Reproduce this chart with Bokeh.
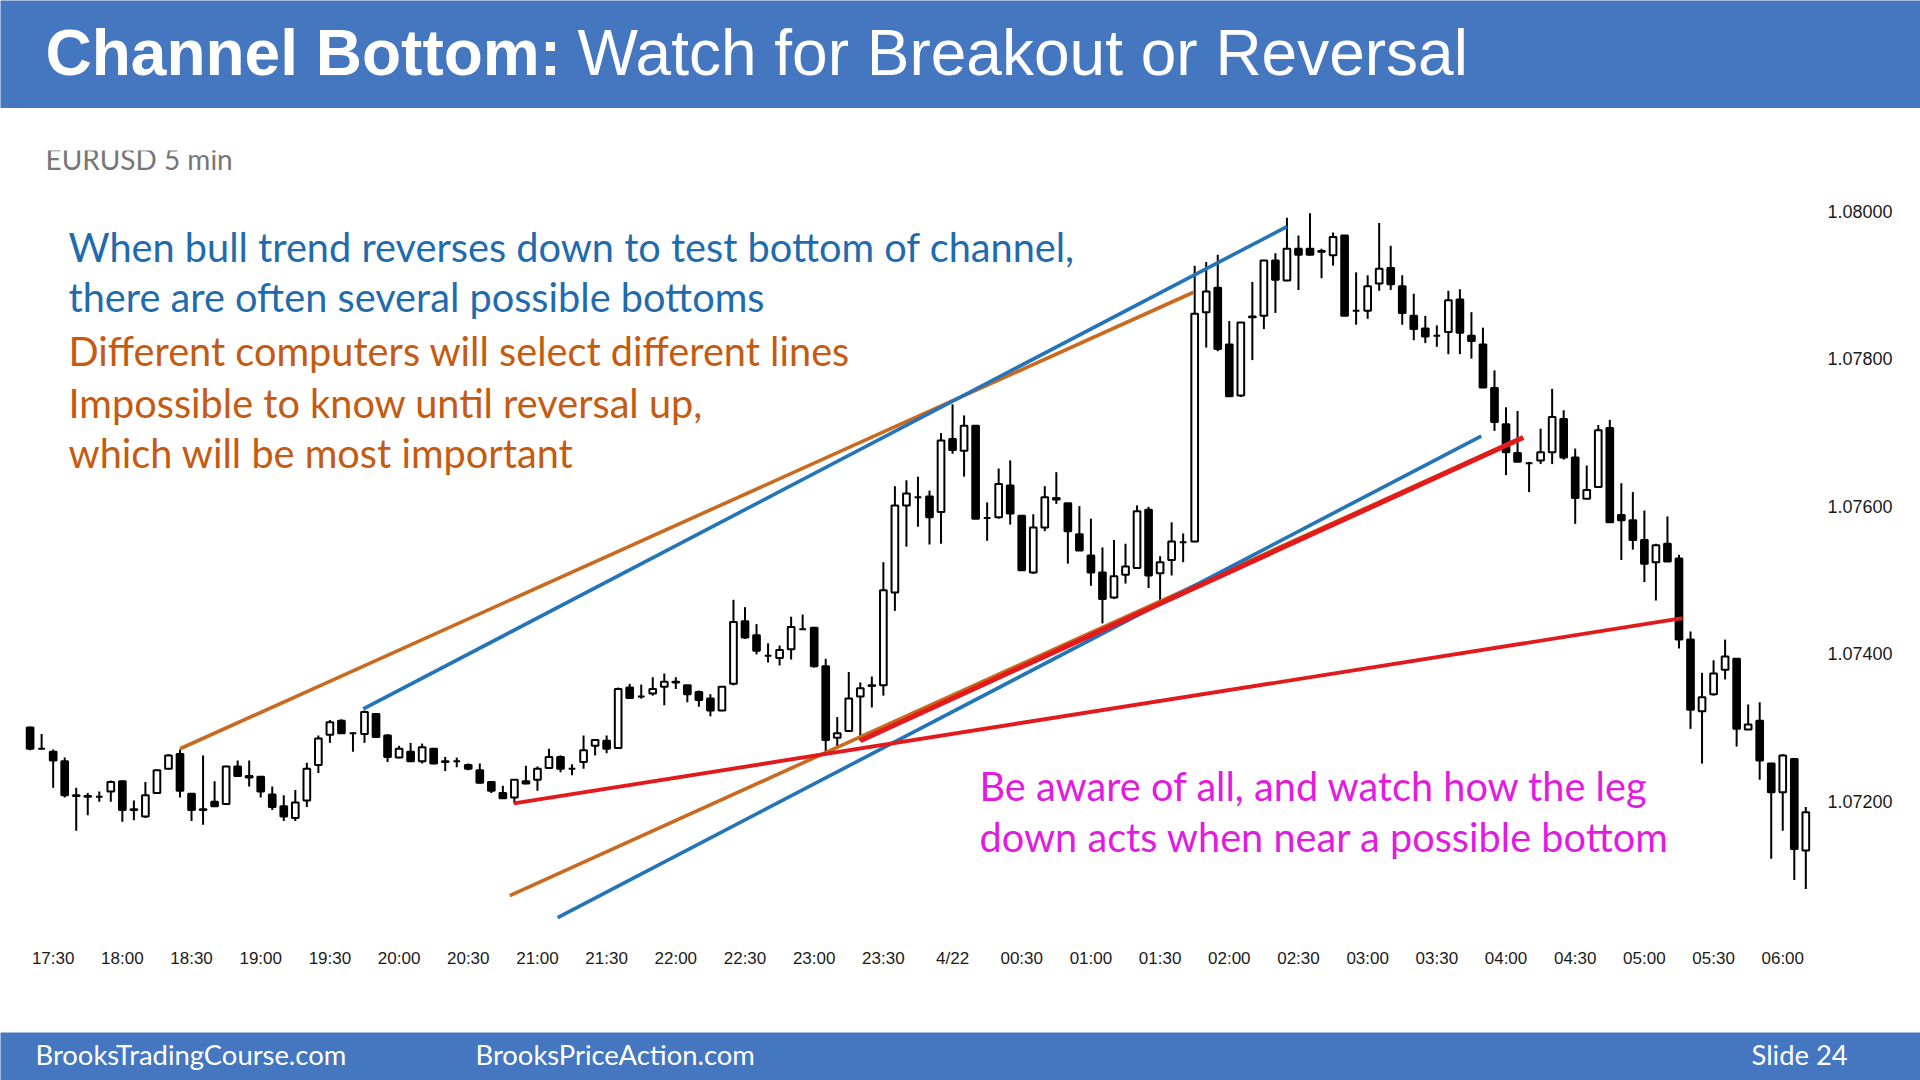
from bokeh.plotting import figure
from bokeh.layouts import column
from bokeh.models import (Range1d, FixedTicker, NumeralTickFormatter, Label, ColumnDataSource)
from bokeh.embed import file_html
from bokeh.resources import INLINE

# ---------------- data (EURUSD 5 min, bar index 0 = 17:30) ----------------
first_bar = -2
opens = [1.07300, 1.07271, 1.07267, 1.07254, 1.07208, 1.07207, 1.07206, 1.07213, 1.07227, 1.07188,
         1.07179, 1.07211, 1.07244, 1.07264, 1.07210, 1.07189, 1.07199, 1.07196, 1.07247, 1.07234,
         1.07233, 1.07209, 1.07193, 1.07177, 1.07201, 1.07249, 1.07290, 1.07309, 1.07292, 1.07291,
         1.07318, 1.07289, 1.07259, 1.07267, 1.07254, 1.07271, 1.07254, 1.07254, 1.07249, 1.07242,
         1.07226, 1.07211, 1.07205, 1.07227, 1.07229, 1.07245, 1.07260, 1.07244, 1.07253, 1.07275,
         1.07282, 1.07272, 1.07354, 1.07342, 1.07346, 1.07355, 1.07361, 1.07357, 1.07348, 1.07339,
         1.07323, 1.07359, 1.07444, 1.07425, 1.07397, 1.07394, 1.07406, 1.07433, 1.07435, 1.07383,
         1.07286, 1.07295, 1.07342, 1.07356, 1.07357, 1.07483, 1.07601, 1.07612, 1.07613, 1.07592,
         1.07691, 1.07675, 1.07709, 1.07584, 1.07585, 1.07628, 1.07587, 1.07510, 1.07571, 1.07611,
         1.07604, 1.07562, 1.07533, 1.07510, 1.07476, 1.07507, 1.07516, 1.07595, 1.07509, 1.07527,
         1.07551, 1.07552, 1.07863, 1.07896, 1.07819, 1.07750, 1.07857, 1.07858, 1.07933, 1.07906,
         1.07949, 1.07949, 1.07946, 1.07940, 1.07967, 1.07865, 1.07865, 1.07902, 1.07923, 1.07898,
         1.07858, 1.07841, 1.07831, 1.07836, 1.07880, 1.07831, 1.07819, 1.07760, 1.07711, 1.07672,
         1.07658, 1.07662, 1.07673, 1.07718, 1.07666, 1.07610, 1.07626, 1.07706, 1.07588, 1.07581,
         1.07554, 1.07524, 1.07549, 1.07529, 1.07419, 1.07322, 1.07345, 1.07378, 1.07393, 1.07297,
         1.07309, 1.07251, 1.07212, 1.07257, 1.07133]
highs = [1.07301, 1.07291, 1.07270, 1.07259, 1.07218, 1.07211, 1.07213, 1.07228, 1.07228, 1.07201,
         1.07226, 1.07242, 1.07264, 1.07270, 1.07211, 1.07262, 1.07227, 1.07248, 1.07255, 1.07255,
         1.07234, 1.07220, 1.07208, 1.07215, 1.07252, 1.07289, 1.07310, 1.07311, 1.07293, 1.07323,
         1.07319, 1.07291, 1.07275, 1.07279, 1.07278, 1.07271, 1.07260, 1.07259, 1.07251, 1.07251,
         1.07226, 1.07221, 1.07230, 1.07248, 1.07247, 1.07271, 1.07262, 1.07250, 1.07289, 1.07284,
         1.07289, 1.07354, 1.07359, 1.07358, 1.07368, 1.07373, 1.07368, 1.07357, 1.07350, 1.07345,
         1.07355, 1.07473, 1.07463, 1.07440, 1.07414, 1.07411, 1.07450, 1.07453, 1.07435, 1.07393,
         1.07314, 1.07375, 1.07361, 1.07369, 1.07524, 1.07627, 1.07635, 1.07640, 1.07621, 1.07699,
         1.07738, 1.07723, 1.07709, 1.07605, 1.07651, 1.07662, 1.07587, 1.07589, 1.07627, 1.07646,
         1.07604, 1.07600, 1.07583, 1.07544, 1.07554, 1.07549, 1.07601, 1.07599, 1.07532, 1.07578,
         1.07563, 1.07926, 1.07931, 1.07941, 1.07851, 1.07849, 1.07904, 1.07933, 1.07943, 1.07991,
         1.07967, 1.07997, 1.07949, 1.07971, 1.07967, 1.07917, 1.07913, 1.07984, 1.07953, 1.07913,
         1.07888, 1.07858, 1.07845, 1.07892, 1.07894, 1.07863, 1.07842, 1.07784, 1.07734, 1.07729,
         1.07660, 1.07705, 1.07759, 1.07730, 1.07678, 1.07655, 1.07710, 1.07717, 1.07631, 1.07619,
         1.07594, 1.07549, 1.07586, 1.07534, 1.07430, 1.07374, 1.07391, 1.07419, 1.07393, 1.07331,
         1.07334, 1.07251, 1.07264, 1.07257, 1.07192]
lows = [1.07269, 1.07270, 1.07218, 1.07205, 1.07160, 1.07181, 1.07199, 1.07199, 1.07172, 1.07174,
        1.07177, 1.07210, 1.07243, 1.07205, 1.07173, 1.07168, 1.07192, 1.07195, 1.07233, 1.07220,
        1.07205, 1.07188, 1.07173, 1.07173, 1.07192, 1.07238, 1.07279, 1.07291, 1.07267, 1.07279,
        1.07286, 1.07253, 1.07258, 1.07253, 1.07251, 1.07250, 1.07241, 1.07246, 1.07242, 1.07224,
        1.07211, 1.07203, 1.07197, 1.07223, 1.07214, 1.07244, 1.07239, 1.07235, 1.07244, 1.07262,
        1.07265, 1.07271, 1.07340, 1.07339, 1.07343, 1.07330, 1.07352, 1.07334, 1.07328, 1.07315,
        1.07322, 1.07357, 1.07420, 1.07399, 1.07388, 1.07384, 1.07392, 1.07432, 1.07381, 1.07266,
        1.07273, 1.07294, 1.07282, 1.07327, 1.07343, 1.07458, 1.07545, 1.07572, 1.07548, 1.07549,
        1.07671, 1.07640, 1.07583, 1.07553, 1.07583, 1.07575, 1.07512, 1.07508, 1.07566, 1.07603,
        1.07522, 1.07540, 1.07492, 1.07441, 1.07474, 1.07495, 1.07515, 1.07489, 1.07470, 1.07506,
        1.07524, 1.07551, 1.07815, 1.07810, 1.07748, 1.07748, 1.07798, 1.07840, 1.07862, 1.07905,
        1.07893, 1.07940, 1.07909, 1.07926, 1.07858, 1.07846, 1.07854, 1.07892, 1.07893, 1.07846,
        1.07825, 1.07821, 1.07816, 1.07806, 1.07806, 1.07800, 1.07760, 1.07702, 1.07642, 1.07660,
        1.07619, 1.07657, 1.07657, 1.07663, 1.07576, 1.07610, 1.07626, 1.07578, 1.07527, 1.07541,
        1.07497, 1.07472, 1.07525, 1.07407, 1.07298, 1.07251, 1.07343, 1.07365, 1.07274, 1.07297,
        1.07229, 1.07122, 1.07160, 1.07093, 1.07081]
closes = [1.07271, 1.07271, 1.07255, 1.07208, 1.07207, 1.07206, 1.07206, 1.07226, 1.07188, 1.07189,
          1.07208, 1.07242, 1.07262, 1.07214, 1.07188, 1.07188, 1.07193, 1.07247, 1.07234, 1.07232,
          1.07213, 1.07192, 1.07179, 1.07198, 1.07244, 1.07285, 1.07307, 1.07292, 1.07292, 1.07321,
          1.07287, 1.07260, 1.07271, 1.07254, 1.07273, 1.07251, 1.07253, 1.07254, 1.07244, 1.07225,
          1.07214, 1.07204, 1.07229, 1.07224, 1.07244, 1.07260, 1.07244, 1.07244, 1.07269, 1.07283,
          1.07271, 1.07352, 1.07340, 1.07342, 1.07352, 1.07362, 1.07362, 1.07345, 1.07337, 1.07323,
          1.07355, 1.07443, 1.07422, 1.07404, 1.07397, 1.07405, 1.07436, 1.07433, 1.07383, 1.07283,
          1.07292, 1.07339, 1.07353, 1.07357, 1.07486, 1.07601, 1.07617, 1.07612, 1.07585, 1.07689,
          1.07676, 1.07709, 1.07583, 1.07584, 1.07630, 1.07590, 1.07513, 1.07571, 1.07612, 1.07609,
          1.07566, 1.07540, 1.07510, 1.07474, 1.07505, 1.07518, 1.07593, 1.07506, 1.07524, 1.07552,
          1.07551, 1.07861, 1.07891, 1.07813, 1.07749, 1.07849, 1.07856, 1.07933, 1.07907, 1.07949,
          1.07941, 1.07941, 1.07945, 1.07965, 1.07858, 1.07865, 1.07898, 1.07922, 1.07901, 1.07862,
          1.07840, 1.07830, 1.07831, 1.07879, 1.07835, 1.07824, 1.07761, 1.07714, 1.07673, 1.07660,
          1.07658, 1.07673, 1.07721, 1.07666, 1.07611, 1.07622, 1.07703, 1.07578, 1.07581, 1.07554,
          1.07522, 1.07547, 1.07525, 1.07419, 1.07324, 1.07341, 1.07373, 1.07396, 1.07298, 1.07304,
          1.07255, 1.07212, 1.07262, 1.07135, 1.07185]

time_ticks = [0, 6, 12, 18, 24, 30, 36, 42, 48, 54, 60, 66, 72, 78, 84, 90, 96, 102, 108,
              114, 120, 126, 132, 138, 144, 150]
time_labels = ["17:30", "18:00", "18:30", "19:00", "19:30", "20:00", "20:30", "21:00", "21:30",
               "22:00", "22:30", "23:00", "23:30", "4/22", "00:30", "01:00", "01:30", "02:00",
               "02:30", "03:00", "03:30", "04:00", "04:30", "05:00", "05:30", "06:00"]
price_ticks = [1.072, 1.074, 1.076, 1.078, 1.080]

# trend lines (bar index, price)
trend_x0 = [11.0, 26.9, 39.6, 43.75, 39.95, 70.0]
trend_y0 = [1.07271, 1.07325, 1.07072, 1.07042, 1.07197, 1.07282]
trend_x1 = [98.9, 107.0, 127.1, 123.85, 141.3, 127.5]
trend_y1 = [1.07890, 1.07979, 1.07691, 1.07695, 1.07448, 1.07693]

# ---------------- styles ----------------
ORANGE_LINE = "#C96A1E"
BLUE_LINE = "#2374B8"
RED_LINE = "#E31A1C"
trend_styles = [(ORANGE_LINE, 3.6), (BLUE_LINE, 3.6), (ORANGE_LINE, 3.6), (BLUE_LINE, 3.6),
                (RED_LINE, 3.8), (RED_LINE, 5.0)]
BAR_BLUE = "#4577C0"
TEXT_BLUE = "#1F6BAE"
TEXT_ORANGE = "#C55A11"
TEXT_MAGENTA = "#E21BE0"
BODY_FONT = "Lato"

W = 1920
HEAD_H, MAIN_H, FOOT_H = 108, 924, 48


def lab(fig, text, x, y, color, size, font=BODY_FONT, style="normal"):
    fig.add_layout(Label(x=x, y=y, x_units="canvas", y_units="canvas", text=text,
                         text_color=color, text_font=font, text_font_size=size,
                         text_font_style=style, text_baseline="middle", text_align="left"))


def band(height):
    f = figure(width=W, height=height, output_backend="svg", toolbar_location=None,
               x_axis_type=None, y_axis_type=None, min_border=0, frame_align=False,
               x_range=Range1d(0, 1), y_range=Range1d(0, 1))
    f.outline_line_color = None
    f.background_fill_color = BAR_BLUE
    f.border_fill_color = BAR_BLUE
    f.grid.visible = False
    return f


# ---------------- header ----------------
head = band(HEAD_H)
lab(head, "Channel Bottom:", 45, 52, "white", "64px", font="Liberation Sans", style="bold")
lab(head, "Watch for Breakout or Reversal", 577, 52, "white", "64px", font="Liberation Sans")

# ---------------- main chart ----------------
p = figure(width=W, height=MAIN_H, output_backend="svg", toolbar_location=None,
           x_range=Range1d(-3.70, 152.84), y_range=Range1d(1.070178, 1.080822),
           y_axis_location="right", frame_align=False,
           min_border_left=10, min_border_right=105, min_border_top=42, min_border_bottom=97)
p.grid.visible = False
p.outline_line_color = None
p.background_fill_color = "white"
p.border_fill_color = "white"

p.xaxis.ticker = FixedTicker(ticks=time_ticks)
p.xaxis.major_label_overrides = {t: lb for t, lb in zip(time_ticks, time_labels)}
p.yaxis.ticker = FixedTicker(ticks=price_ticks)
p.yaxis.formatter = NumeralTickFormatter(format="0.00000")
for ax in (p.xaxis[0], p.yaxis[0]):
    ax.axis_line_color = None
    ax.major_tick_line_color = None
    ax.minor_tick_line_color = None
    ax.major_tick_out = 0
    ax.major_tick_in = 0
    ax.major_label_text_font = "Liberation Sans"
    ax.major_label_text_color = "#1a1a1a"
p.xaxis.major_label_text_font_size = "17px"
p.xaxis.major_label_standoff = 13
p.yaxis.major_label_text_font_size = "18px"
p.yaxis.major_label_standoff = 12

xs = [first_bar + k for k in range(len(opens))]
src = ColumnDataSource(dict(
    x=xs,
    high=highs,
    low=lows,
    top=[max(o, c) for o, c in zip(opens, closes)],
    bottom=[min(o, c) for o, c in zip(opens, closes)],
    fill=["white" if c > o else "black" for o, c in zip(opens, closes)],
))
p.segment(x0="x", y0="low", x1="x", y1="high", line_color="black", line_width=2, source=src)
p.vbar(x="x", width=0.58, top="top", bottom="bottom", fill_color="fill",
       line_color="black", line_width=2, source=src)

for x0, y0, x1, y1, (col, lw) in zip(trend_x0, trend_y0, trend_x1, trend_y1, trend_styles):
    p.line(x=[x0, x1], y=[y0, y1], line_color=col, line_width=lw)

lab(p, "EURUSD 5 min", 45, 50, "#767676", "28px")
lab(p, "When bull trend reverses down to test bottom of channel,", 68, 138, TEXT_BLUE, "39.7px")
lab(p, "there are often several possible bottoms", 68, 188, TEXT_BLUE, "39.7px")
lab(p, "Different computers will select different lines", 68, 242, TEXT_ORANGE, "39.7px")
lab(p, "Impossible to know until reversal up,", 68, 294, TEXT_ORANGE, "39.7px")
lab(p, "which will be most important", 68, 344, TEXT_ORANGE, "39.7px")
lab(p, "Be aware of all, and watch how the leg", 979, 677, TEXT_MAGENTA, "39.7px")
lab(p, "down acts when near a possible bottom", 979, 728, TEXT_MAGENTA, "39.7px")

# ---------------- footer ----------------
foot = band(FOOT_H)
lab(foot, "BrooksTradingCourse.com", 35, 22, "white", "27.4px")
lab(foot, "BrooksPriceAction.com", 475, 22, "white", "27.4px")
lab(foot, "Slide  24", 1751, 22, "white", "27.4px")

layout = column(head, p, foot, spacing=0)
open("out.html", "w").write(file_html(layout, INLINE))
